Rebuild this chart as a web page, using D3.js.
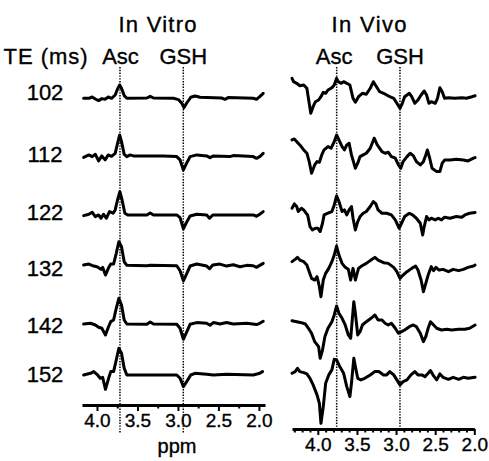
<!DOCTYPE html>
<html>
<head>
<meta charset="utf-8">
<script src="https://cdn.jsdelivr.net/npm/d3@7"></script>
<style>
  body { margin: 0; background: #fff; }
  text { font-family: "Liberation Sans", Arial, sans-serif; fill: #000; stroke: #000; stroke-width: 0.35px; }
</style>
</head>
<body>
<div id="chart"></div>
<script>
// echo times, one row per TE
const te = [102, 112, 122, 132, 142, 152];

// in vitro spectra: [ppm, amplitude]
const vitro102 = [[4.165,2.7],[4.10,2.7],[4.06,4.0],[4.02,2.0],[3.98,0.4],[3.94,2.4],[3.90,1.7],[3.86,4.0],[3.82,2.7],[3.775,6.0],[3.746,12.0],[3.72,16.0],[3.697,12.7],[3.664,5.4],[3.631,2.7],[3.384,3.0],[3.343,4.7],[3.302,3.0],[3.056,2.7],[2.994,1.4],[2.953,-2.3],[2.925,-6.6],[2.892,-2.0],[2.842,3.7],[2.789,5.0],[2.727,3.7],[2.46,3.0],[2.42,1.7],[2.38,3.4],[2.07,2.7],[2.03,1.7],[1.99,4.4],[1.947,7.7]];
const vitro112 = [[4.165,-1.2],[4.10,1.2],[4.06,-0.5],[4.02,1.8],[3.98,-4.8],[3.94,0.2],[3.90,-3.8],[3.86,1.2],[3.82,-0.2],[3.775,2.8],[3.746,12.8],[3.72,21.2],[3.697,14.5],[3.664,1.8],[3.631,-0.5],[3.59,1.2],[3.55,0.2],[3.18,0.2],[3.015,-0.5],[2.974,-3.8],[2.933,-13.8],[2.90,-8.2],[2.85,-0.5],[2.768,1.2],[2.645,0.2],[2.604,-1.5],[2.563,0.2],[2.36,-0.5],[2.317,0.5],[2.07,-0.5],[2.03,-2.2],[1.99,-0.5],[1.947,2.8]];
const vitro122 = [[4.165,-4.4],[4.10,-3.0],[4.06,-1.0],[4.02,-5.4],[3.98,-3.7],[3.95,-7.0],[3.92,-3.0],[3.885,-7.0],[3.845,-0.4],[3.80,-2.0],[3.775,1.3],[3.746,11.3],[3.717,19.6],[3.69,11.3],[3.656,-2.0],[3.62,-3.7],[3.384,-3.7],[3.343,-1.7],[3.302,-3.7],[3.015,-3.7],[2.974,-6.4],[2.933,-17.7],[2.90,-12.0],[2.85,-4.7],[2.768,-3.0],[2.645,-3.7],[2.61,-7.0],[2.57,-3.7],[2.36,-3.7],[2.07,-3.7],[2.03,-5.0],[1.99,-3.0],[1.947,-0.4]];
const vitro132 = [[4.165,1.3],[4.10,2.3],[4.04,0.3],[4.00,-0.4],[3.95,-3.0],[3.93,-1.0],[3.895,-8.7],[3.86,-2.0],[3.83,2.3],[3.795,2.3],[3.762,13.0],[3.73,24.6],[3.697,19.6],[3.664,4.6],[3.631,1.0],[3.384,0.6],[3.343,1.0],[3.015,0.6],[2.974,-4.4],[2.933,-14.4],[2.90,-8.7],[2.85,0.3],[2.768,2.3],[2.645,0.3],[2.61,-2.4],[2.57,1.3],[2.48,2.3],[2.40,0.3],[2.317,1.6],[2.234,-0.4],[2.15,1.0],[2.07,0.6],[2.03,-1.0],[1.99,1.0],[1.947,3.0]];
const vitro142 = [[4.165,-2.5],[4.08,-1.8],[4.02,-3.5],[3.98,-5.8],[3.94,-6.8],[3.895,-13.5],[3.86,-5.8],[3.83,-0.1],[3.795,1.5],[3.762,13.2],[3.73,23.2],[3.697,16.5],[3.664,1.5],[3.631,-2.5],[3.384,-2.8],[3.343,-0.5],[3.302,-2.5],[3.015,-2.8],[2.974,-6.8],[2.933,-17.8],[2.90,-11.8],[2.85,-2.8],[2.768,-1.1],[2.645,-1.8],[2.604,-3.8],[2.563,-1.1],[2.48,-2.5],[2.40,-1.1],[2.317,-2.5],[2.15,-1.8],[2.03,-3.1],[1.99,-1.8],[1.947,0.2]];
const vitro152 = [[4.165,1.6],[4.08,3.3],[4.04,5.0],[4.00,2.3],[3.96,-1.7],[3.93,-0.7],[3.895,-12.7],[3.86,-2.7],[3.83,5.0],[3.795,5.0],[3.762,16.6],[3.73,28.3],[3.697,23.3],[3.664,8.3],[3.631,1.6],[3.55,1.6],[3.015,1.6],[2.974,-1.7],[2.933,-10.0],[2.892,-5.0],[2.842,1.6],[2.79,3.3],[2.645,2.3],[2.563,1.6],[2.40,2.3],[2.07,1.6],[1.99,3.3],[1.955,5.0]];

// in vivo spectra: [ppm, amplitude]
const vivo102 = [[4.33,22.7],[4.31,19.3],[4.27,17.7],[4.23,15.3],[4.18,16],[4.14,12.7],[4.12,2.7],[4.09,-12.3],[4.06,-5.7],[4.03,-0.7],[3.99,1],[3.96,4.3],[3.93,8.7],[3.90,7.7],[3.87,11],[3.82,13.3],[3.79,16],[3.76,22.7],[3.74,19.3],[3.70,17.7],[3.67,19.3],[3.63,17.7],[3.59,16],[3.55,2.7],[3.52,-1.3],[3.48,4.3],[3.43,7.7],[3.38,6.7],[3.33,12.7],[3.29,19.3],[3.25,14.3],[3.21,9.3],[3.16,7.7],[3.12,6],[3.08,4.3],[3.03,2.7],[2.99,-2.3],[2.95,-7.3],[2.92,-2.3],[2.89,4.3],[2.83,7.7],[2.80,4.3],[2.76,-2.3],[2.72,1],[2.68,6],[2.64,10],[2.61,6],[2.58,-2.3],[2.55,-0.7],[2.50,-2.3],[2.47,2.7],[2.44,13.3],[2.41,9.3],[2.38,2.7],[2.33,3.3],[2.25,2.7],[2.16,3.3],[2.10,2.7],[2.03,4.3],[1.99,5.3]];
const vivo112 = [[4.33,16.2],[4.30,17.2],[4.27,14.5],[4.23,11.2],[4.18,6.2],[4.14,2.9],[4.11,-5.5],[4.08,-17.1],[4.04,-8.8],[4.01,-5.5],[3.98,-6.1],[3.95,1.2],[3.92,6.2],[3.87,9.5],[3.83,7.9],[3.79,14.5],[3.76,21.2],[3.73,16.2],[3.69,9.5],[3.66,6.2],[3.63,11.2],[3.60,12.9],[3.57,1.2],[3.52,-12.1],[3.49,-7.1],[3.46,-0.5],[3.42,1.2],[3.38,2.9],[3.33,7.9],[3.28,17.9],[3.24,11.2],[3.18,4.5],[3.14,2.9],[3.10,3.9],[3.06,-0.5],[3.01,-2.1],[2.97,-8.8],[2.94,-12.1],[2.91,-5.5],[2.86,-0.5],[2.82,2.9],[2.78,0.5],[2.74,-5.5],[2.69,-8.8],[2.65,-5.5],[2.62,1.2],[2.60,6.2],[2.57,-2.1],[2.54,-12.1],[2.48,-15.5],[2.44,-15.5],[2.41,-7.1],[2.38,-3.9],[2.31,-3.9],[2.23,-3.1],[2.14,-3.9],[2.08,-4.8],[2.01,-2.1],[1.99,-1.5]];
const vivo122 = [[4.33,3],[4.30,7.3],[4.27,4.7],[4.25,-0.3],[4.21,3],[4.18,1.3],[4.15,-2],[4.13,-3.7],[4.10,-15.3],[4.07,-18.7],[4.03,-17],[4.00,-17],[3.97,-20.3],[3.94,-12],[3.92,-3.7],[3.87,-2],[3.82,-0.3],[3.79,6.3],[3.76,15.3],[3.73,9.7],[3.69,-0.3],[3.66,1.3],[3.63,-3.7],[3.60,1.3],[3.57,4.7],[3.55,-7],[3.52,-18.7],[3.49,-10.3],[3.46,-5.3],[3.42,-2],[3.38,-0.3],[3.33,4.7],[3.29,9.7],[3.26,7.7],[3.23,1.3],[3.18,-2],[3.12,-2],[3.06,-3.7],[3.01,-8.7],[2.96,-17],[2.93,-12],[2.89,-5.3],[2.83,-2],[2.79,-3.7],[2.74,-7],[2.69,-12],[2.66,-23.7],[2.64,-15.3],[2.61,-5.3],[2.58,-8.7],[2.55,-7],[2.50,-8.7],[2.46,-7],[2.42,-8.7],[2.38,-6],[2.31,-7],[2.23,-5.3],[2.16,-6],[2.12,-3.7],[2.06,-2],[1.99,-1.3]];
const vivo132 = [[4.33,4.7],[4.29,7],[4.26,9],[4.23,6.3],[4.18,4.7],[4.14,1.3],[4.11,-5.3],[4.08,-12],[4.04,-13.7],[4.01,-10.3],[3.98,-20.3],[3.96,-30.3],[3.93,-13.7],[3.90,-7],[3.86,-2],[3.82,4.7],[3.79,11.3],[3.76,20.3],[3.73,11.3],[3.69,3],[3.65,-1],[3.61,-3],[3.58,-13.7],[3.55,-2],[3.52,-13.7],[3.48,-2],[3.44,0.3],[3.38,3],[3.32,6.3],[3.27,9],[3.23,6.3],[3.16,3.7],[3.10,3],[3.03,-1],[2.99,-5.3],[2.95,-12],[2.91,-8.7],[2.86,-5.3],[2.80,-2],[2.75,0.3],[2.72,-3.7],[2.68,-13.7],[2.65,-25.3],[2.62,-17],[2.59,-8.7],[2.55,-0.3],[2.52,-4.3],[2.49,-1],[2.45,-3.7],[2.40,-3],[2.33,-5.3],[2.27,-3],[2.20,-4.3],[2.14,-3],[2.08,-1],[2.01,0.3],[1.99,1.3]];
const vivo142 = [[4.33,0.8],[4.27,-0.2],[4.21,-1.2],[4.16,-2.5],[4.12,-6.8],[4.08,-11.8],[4.04,-20.2],[3.99,-25.2],[3.97,-36.8],[3.94,-28.5],[3.91,-15.2],[3.87,-6.8],[3.82,-0.2],[3.79,6.5],[3.76,15.5],[3.73,8.2],[3.69,3.2],[3.65,-3.5],[3.61,-13.5],[3.58,-16.8],[3.56,1.5],[3.54,19.8],[3.52,8.2],[3.49,-13.5],[3.46,-10.2],[3.43,-3.5],[3.38,-0.2],[3.32,3.2],[3.27,6.5],[3.23,1.5],[3.18,1.5],[3.14,-1.8],[3.10,-3.5],[3.06,-1.8],[3.01,-6.8],[2.97,-11.8],[2.93,-10.2],[2.89,-8.5],[2.83,-5.2],[2.78,-3.5],[2.74,-5.2],[2.69,-11.8],[2.65,-20.2],[2.62,-15.2],[2.59,-6.8],[2.56,-0.2],[2.52,-3.5],[2.48,-6.8],[2.42,-8.5],[2.35,-7.8],[2.29,-8.5],[2.20,-7.8],[2.12,-7.8],[2.06,-6.8],[1.99,-3.5]];
const vivo152 = [[4.33,3.3],[4.29,5],[4.26,8.3],[4.23,5],[4.18,4],[4.14,2.7],[4.10,-1.7],[4.06,-8.3],[4.01,-18.3],[3.98,-26.7],[3.96,-46.7],[3.93,-30],[3.90,-6.7],[3.86,1.7],[3.82,6.7],[3.79,17.3],[3.76,16.7],[3.72,10],[3.67,3.3],[3.63,-10],[3.59,-20],[3.57,-6.7],[3.54,18.3],[3.52,10],[3.49,-1.7],[3.45,-3.3],[3.40,-1.7],[3.33,1.7],[3.27,5],[3.22,5],[3.16,1.7],[3.12,1.7],[3.08,5],[3.03,1.7],[2.99,-3.3],[2.95,-8.3],[2.91,-5],[2.86,-3.3],[2.81,1.7],[2.76,5],[2.72,1.7],[2.67,1.7],[2.63,0],[2.59,3.3],[2.56,6],[2.52,0.7],[2.48,-3.3],[2.44,2.7],[2.40,-0.7],[2.33,-2.7],[2.27,-0.7],[2.20,-2.7],[2.14,-0.7],[2.08,-1.7],[1.99,-0.7]];

const vitro = [vitro102, vitro112, vitro122, vitro132, vitro142, vitro152];
const vivo = [vivo102, vivo112, vivo122, vivo132, vivo142, vivo152];

// metabolite markers (ppm) per panel
const markerNames = ['Asc', 'GSH'];
const vitroMarkers = [3.716, 2.934];
const vivoMarkers = [3.759, 2.95];

// axis ticks
const majorTicks = [4.0, 3.5, 3.0, 2.5, 2.0];
const vitroMinor = [3.75, 3.25, 2.75, 2.25];
const vivoMinor = [4.3, 4.2, 4.1, 3.9, 3.8, 3.7, 3.6, 3.4, 3.3, 3.2, 3.1, 2.9, 2.8, 2.7, 2.6, 2.4, 2.3, 2.2, 2.1];

// baselines of the TE labels (layout only)
const teLabelY = [100, 162, 220, 276, 333, 382];

const svg = d3.select('#chart').append('svg')
    .attr('width', 489)
    .attr('height', 461);

const xVitro = d3.scaleLinear().domain([4.185, 1.925]).range([82, 265]);
const xVivo = d3.scaleLinear().domain([4.33, 2.0]).range([292, 474.3]);
const rowY = d3.scalePoint().domain(te).range([101, 376.6]);
const amp = d3.scaleLinear().domain([0, 10]).range([0, -10]);

function drawPanel(x, traces, markers, axisY, minor, dotBottom, labelShift) {
    // dotted marker lines + names
    markers.forEach((m, i) => {
        svg.append('line')
            .attr('x1', x(m)).attr('x2', x(m))
            .attr('y1', 67).attr('y2', dotBottom)
            .attr('stroke', '#000')
            .attr('stroke-width', 1.5)
            .attr('stroke-dasharray', '1.4,1.4');
        svg.append('text')
            .attr('x', x(m) + labelShift[i])
            .attr('y', 64)
            .attr('text-anchor', 'middle')
            .attr('font-size', 22)
            .text(markerNames[i]);
    });

    const line = d3.line().x(d => x(d[0])).y(d => amp(d[1]));
    traces.forEach((tr, i) => {
        svg.append('path')
            .datum(tr)
            .attr('transform', `translate(0,${rowY(te[i])})`)
            .attr('d', line)
            .attr('fill', 'none')
            .attr('stroke', '#000')
            .attr('stroke-width', 3)
            .attr('stroke-linejoin', 'round')
            .attr('stroke-linecap', 'round');
    });

    const minorAxis = svg.append('g')
        .attr('transform', `translate(0,${axisY})`)
        .call(d3.axisBottom(x).tickValues(minor).tickSize(3.5).tickSizeOuter(0).tickFormat(''));
    minorAxis.select('.domain').attr('stroke-width', 2.8);
    minorAxis.selectAll('.tick line').attr('stroke-width', 2);

    const majorAxis = svg.append('g')
        .attr('transform', `translate(0,${axisY})`)
        .call(d3.axisBottom(x).tickValues(majorTicks).tickSize(6).tickSizeOuter(0).tickPadding(2.5).tickFormat(d3.format('.1f')));
    majorAxis.select('.domain').remove();
    majorAxis.selectAll('.tick line').attr('stroke-width', 2);
    majorAxis.selectAll('.tick text')
        .attr('font-size', 19)
        .attr('font-family', '"Liberation Sans", Arial, sans-serif')
        .attr('fill', '#000');
}

drawPanel(xVitro, vitro, vitroMarkers, 405, vitroMinor, 433, [0.5, 0]);
drawPanel(xVivo, vivo, vivoMarkers, 429, vivoMinor, 429, [-2.5, 0]);

// titles
svg.append('text').attr('x', 157.5).attr('y', 32).attr('text-anchor', 'middle')
    .attr('font-size', 22).attr('textLength', 78).text('In Vitro');
svg.append('text').attr('x', 369).attr('y', 32).attr('text-anchor', 'middle')
    .attr('font-size', 22).attr('textLength', 75).text('In Vivo');
svg.append('text').attr('x', 3.5).attr('y', 64)
    .attr('font-size', 22).attr('textLength', 84).text('TE (ms)');

// TE labels
svg.selectAll('.te').data(te).enter().append('text')
    .attr('class', 'te')
    .attr('x', 45)
    .attr('y', (d, i) => teLabelY[i])
    .attr('text-anchor', 'middle')
    .attr('font-size', 22)
    .text(d => d);

svg.append('text').attr('x', 177).attr('y', 453).attr('text-anchor', 'middle')
    .attr('font-size', 20).text('ppm');
</script>
</body>
</html>
